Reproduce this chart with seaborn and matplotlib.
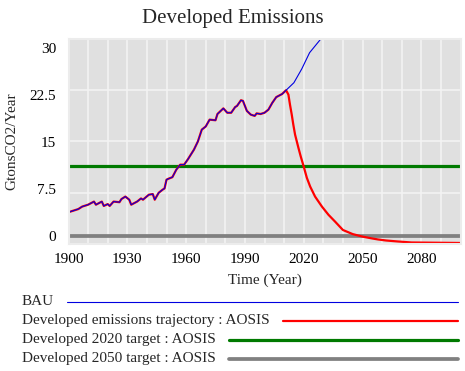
import numpy as np
import pandas as pd
import matplotlib
matplotlib.use('Agg')
import matplotlib.pyplot as plt
import seaborn as sns
from matplotlib.lines import Line2D
from matplotlib.ticker import FixedLocator

# -------------------------
# Data
# -------------------------
hist_years = [1900, 1902, 1905, 1907, 1910, 1913, 1914, 1917, 1918, 1920, 1921, 1923,
              1926, 1927, 1929, 1931, 1932, 1935, 1937, 1938, 1941, 1943, 1944, 1946,
              1948, 1949, 1950, 1951, 1953, 1955, 1957, 1959, 1961, 1964, 1966, 1968,
              1970, 1972, 1975, 1976, 1979, 1981, 1983, 1985, 1986, 1988, 1989, 1991,
              1993, 1995, 1996, 1998, 2000, 2002, 2004, 2006, 2009, 2011]
hist_values = [3.8, 4.0, 4.3, 4.7, 5.0, 5.5, 5.0, 5.5, 4.8, 5.1, 4.8, 5.5,
               5.4, 5.9, 6.3, 5.8, 5.0, 5.5, 6.0, 5.8, 6.6, 6.7, 5.8, 6.9,
               7.4, 7.6, 9.0, 9.15, 9.4, 10.6, 11.4, 11.4, 12.3, 13.8, 15.1, 17.0,
               17.5, 18.6, 18.5, 19.5, 20.4, 19.7, 19.7, 20.6, 20.8, 21.7, 21.6, 20.0,
               19.4, 19.2, 19.6, 19.5, 19.7, 20.2, 21.3, 22.2, 22.7, 23.3]

bau_future_years = [2015, 2019, 2023, 2029, 2031]
bau_future_values = [24.5, 26.7, 29.3, 31.6, 32.6]

aosis_future_years = [2012.2, 2013, 2013.9, 2014.7, 2015.6, 2017.3, 2018.5, 2020,
                      2021.6, 2023.3, 2025.8, 2029.3, 2032.6, 2036, 2040, 2045, 2050,
                      2055, 2058, 2062, 2068, 2075, 2100]
aosis_future_values = [22.6, 21.0, 19.4, 17.8, 16.2, 14.1, 12.7, 11.1,
                       9.3, 7.9, 6.3, 4.7, 3.4, 2.3, 0.96, 0.3, -0.1,
                       -0.4, -0.56, -0.72, -0.88, -1.04, -1.12]

target_years = [1900, 2100]
target_2020 = [11.2, 11.2]
target_2050 = [0.0, 0.0]

bau = pd.DataFrame({'year': hist_years + bau_future_years,
                    'value': hist_values + bau_future_values})
aosis = pd.DataFrame({'year': hist_years + aosis_future_years,
                      'value': hist_values + aosis_future_values})

# -------------------------
# Style
# -------------------------
sns.set_theme(style='white')
plt.rcParams['font.family'] = ['Liberation Serif', 'DejaVu Serif']
plt.rcParams['font.size'] = 11

W, H = 465, 371
fig = plt.figure(figsize=(W / 100, H / 100), dpi=100)
ax = fig.add_axes([68.5 / W, 1 - 244.3 / H, 392 / W, (244.3 - 38.5) / H])
ax.set_facecolor('#e0e0e0')

sns.lineplot(x=target_years, y=target_2020, color='#007a00', linewidth=2.3, ax=ax)
sns.lineplot(x=target_years, y=target_2050, color='#808080', linewidth=2.7, ax=ax)
sns.lineplot(data=aosis, x='year', y='value', color='#ff0000', linewidth=1.6,
             sort=False, estimator=None, ax=ax)
sns.lineplot(data=bau, x='year', y='value', color='#0000e0', linewidth=0.8,
             sort=False, estimator=None, ax=ax)

ax.set_xlim(1900, 2100)
ax.set_ylim(-1.33, 31.57)
ax.set_xticks([1900, 1930, 1960, 1990, 2020, 2050, 2080])
ax.xaxis.set_minor_locator(FixedLocator(np.arange(1900, 2101, 10)))
ax.set_yticks([0, 7.5, 15, 22.5, 30])
ax.set_yticklabels(['0', '7.5', '15', '22.5', '30'])
lo, hi = ax.get_ylim()
ax.yaxis.set_minor_locator(FixedLocator([lo + (hi - lo) * k / 4 for k in (1, 2, 3)]))
ax.grid(which='both', axis='x', color='#f4f4f4', linewidth=1.1)
ax.grid(which='minor', axis='y', color='#f4f4f4', linewidth=1.1)
ax.grid(which='major', axis='y', visible=False)
ax.set_axisbelow(True)
ax.tick_params(which='both', length=0)
ax.tick_params(axis='y', pad=9, labelsize=11, colors='black')
ax.tick_params(axis='x', pad=6.5, labelsize=11, colors='black')
for s in ax.spines.values():
    s.set_color('#ececec')
    s.set_linewidth(1.5)

ax.set_xlabel('Time (Year)', fontsize=11, labelpad=5)
ax.set_ylabel('GtonsCO2/Year', fontsize=11, labelpad=8)
fig.text(0.5, 1 - 18 / H, 'Developed Emissions', ha='center', va='center', fontsize=15)

# -------------------------
# Legend below the chart
# -------------------------
legend_rows = [
    ('BAU', '#0000e0', 0.8),
    ('Developed emissions trajectory : AOSIS', '#ff0000', 1.6),
    ('Developed 2020 target : AOSIS', '#007a00', 2.3),
    ('Developed 2050 target : AOSIS', '#808080', 2.7),
]
row_y = [301.5, 320.7, 340, 358.7]
texts = []
for (label, color, lw), y in zip(legend_rows, row_y):
    t = fig.text(22 / W, 1 - y / H, label, ha='left', va='center', fontsize=11)
    texts.append(t)
fig.canvas.draw()
renderer = fig.canvas.get_renderer()
for t, (label, color, lw), y in zip(texts, legend_rows, row_y):
    bb = t.get_window_extent(renderer)
    x0 = (bb.x1 + 13) / W
    fig.add_artist(Line2D([x0, 458 / W], [1 - y / H, 1 - y / H],
                          color=color, linewidth=lw, transform=fig.transFigure))

fig.savefig('out.png', dpi=100)
